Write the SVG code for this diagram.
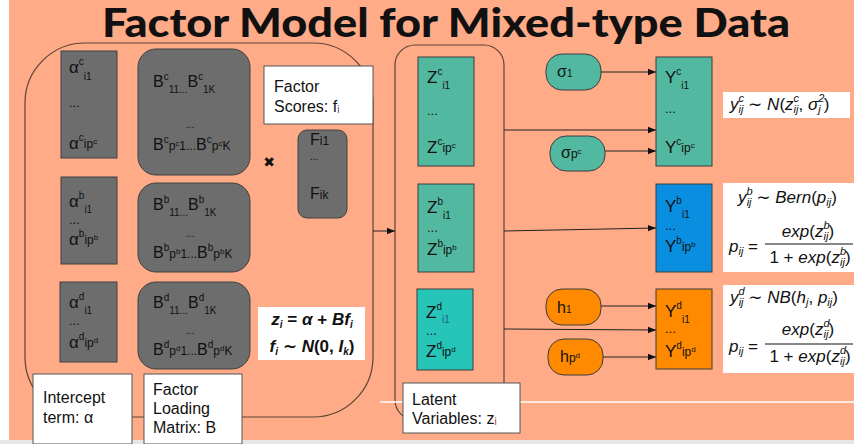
<svg xmlns="http://www.w3.org/2000/svg" width="854" height="444" viewBox="0 0 854 444">
<defs>
<style>
.t{font-family:"Liberation Sans",Arial,"DejaVu Sans",sans-serif;fill:#111;font-size:16px}
.big{font-size:17px}
.s{font-size:10px}
.ss{font-size:8px}
.m12{font-size:12px}
.dots{font-size:13px}
.mi{font-family:"Liberation Sans",Arial,"DejaVu Sans",sans-serif;font-style:italic;fill:#111;font-size:17px}
.fs{font-size:11px}
.up{font-style:normal}
.gray{fill:#6D6D6D;stroke:#404040;stroke-width:1}
.teal{fill:#52B8A0;stroke:#3c3c3c;stroke-width:1}
.cyan{fill:#27C4B8;stroke:#3c3c3c;stroke-width:1}
.blue{fill:#0A8FE0;stroke:#3c3c3c;stroke-width:1}
.orange{fill:#FF8A00;stroke:#3c3c3c;stroke-width:1}
.note{fill:#fff;stroke:#555;stroke-width:1}
.frame{fill:none;stroke:#5a4436;stroke-width:1.2}
.con{fill:none;stroke:#222;stroke-width:1}
</style>
<marker id="ah" viewBox="0 0 10 10" refX="10" refY="5" markerWidth="9" markerHeight="8" orient="auto" markerUnits="userSpaceOnUse">
<path d="M0,1 L10,5 L0,9 z" fill="#111"/>
</marker>
</defs>

<rect x="0" y="0" width="854" height="444" fill="#ffffff"/>
<rect x="9" y="0" width="845" height="440" fill="#FFAB88"/>
<rect x="0" y="440" width="854" height="4" fill="#E6E6E6"/>

<text x="446" y="37" text-anchor="middle" font-family="Lato,'Open Sans',sans-serif" font-weight="900" font-size="40" fill="#111" textLength="688" lengthAdjust="spacingAndGlyphs">Factor Model for Mixed-type Data</text>

<g id="loading-frame">
<rect class="frame" x="25" y="43" width="348" height="374" rx="60"/>
</g>
<g id="latent-frame">
<rect class="frame" x="395" y="45" width="109" height="375" rx="20"/>
</g>

<line x1="380" y1="402" x2="854" y2="402" stroke="#ffffff" stroke-width="1.5"/>

<g id="connectors">
<line class="con" x1="373" y1="231" x2="395" y2="231" marker-end="url(#ah)"/>
<line class="con" x1="504" y1="130" x2="656" y2="130" marker-end="url(#ah)"/>
<line class="con" x1="504" y1="231" x2="656" y2="228" marker-end="url(#ah)"/>
<line class="con" x1="504" y1="329" x2="656" y2="330" marker-end="url(#ah)"/>
<line class="con" x1="601" y1="72" x2="656" y2="72" marker-end="url(#ah)"/>
<line class="con" x1="605" y1="151" x2="656" y2="151" marker-end="url(#ah)"/>
<line class="con" x1="601" y1="306" x2="656" y2="306" marker-end="url(#ah)"/>
<line class="con" x1="603" y1="357" x2="656" y2="357" marker-end="url(#ah)"/>
</g>

<g id="alpha-c">
<rect class="gray" x="61" y="51" width="56" height="107"/>
<text class="t big" x="69" y="73">α<tspan class="s" dy="-8">c</tspan><tspan class="s" dy="15">i1</tspan></text>
<text class="t dots" x="69" y="107">...</text>
<text class="t big" x="69" y="149">α<tspan class="s" dy="-8">c</tspan><tspan class="m12" dy="7">ip</tspan><tspan class="ss" dy="-4">c</tspan></text>
</g>
<g id="alpha-b">
<rect class="gray" x="61" y="177" width="56" height="87"/>
<text class="t big" x="69" y="207">α<tspan class="s" dy="-8">b</tspan><tspan class="s" dy="14">i1</tspan></text>
<text class="t dots" x="69" y="224">...</text>
<text class="t big" x="69" y="245">α<tspan class="s" dy="-8">b</tspan><tspan class="m12" dy="7">ip</tspan><tspan class="ss" dy="-4">b</tspan></text>
</g>
<g id="alpha-d">
<rect class="gray" x="60" y="282" width="57" height="80"/>
<text class="t big" x="69" y="308">α<tspan class="s" dy="-8">d</tspan><tspan class="s" dy="14">i1</tspan></text>
<text class="t dots" x="69" y="325">...</text>
<text class="t big" x="69" y="348">α<tspan class="s" dy="-8">d</tspan><tspan class="m12" dy="7">ip</tspan><tspan class="ss" dy="-4">d</tspan></text>
</g>

<g id="B-c">
<rect class="gray" x="138" y="49" width="112" height="126" rx="18"/>
<text class="t" x="153" y="87">B<tspan class="s" dy="-7">c</tspan><tspan class="s" dy="13">11...</tspan><tspan dy="-6">B</tspan><tspan class="s" dy="-7">c</tspan><tspan class="s" dy="13">1K</tspan></text>
<text class="t s" x="190" y="128" text-anchor="middle">...</text>
<text class="t" x="153" y="150">B<tspan class="s" dy="-7">c</tspan><tspan class="m12" dy="7">p</tspan><tspan class="ss" dy="-4">c</tspan><tspan class="m12" dy="4">1...</tspan><tspan>B</tspan><tspan class="s" dy="-7">c</tspan><tspan class="m12" dy="7">p</tspan><tspan class="ss" dy="-4">c</tspan><tspan class="m12" dy="4">K</tspan></text>
</g>
<g id="B-b">
<rect class="gray" x="138" y="183" width="112" height="89" rx="18"/>
<text class="t" x="153" y="210">B<tspan class="s" dy="-7">b</tspan><tspan class="s" dy="13">11...</tspan><tspan dy="-6">B</tspan><tspan class="s" dy="-7">b</tspan><tspan class="s" dy="13">1K</tspan></text>
<text class="t s" x="190" y="237" text-anchor="middle">...</text>
<text class="t" x="153" y="258">B<tspan class="s" dy="-7">b</tspan><tspan class="m12" dy="7">p</tspan><tspan class="ss" dy="-4">b</tspan><tspan class="m12" dy="4">1...</tspan><tspan>B</tspan><tspan class="s" dy="-7">b</tspan><tspan class="m12" dy="7">p</tspan><tspan class="ss" dy="-4">b</tspan><tspan class="m12" dy="4">K</tspan></text>
</g>
<g id="B-d">
<rect class="gray" x="138" y="282" width="112" height="87" rx="18"/>
<text class="t" x="153" y="308">B<tspan class="s" dy="-7">d</tspan><tspan class="s" dy="13">11...</tspan><tspan dy="-6">B</tspan><tspan class="s" dy="-7">d</tspan><tspan class="s" dy="13">1K</tspan></text>
<text class="t s" x="190" y="334" text-anchor="middle">...</text>
<text class="t" x="153" y="355">B<tspan class="s" dy="-7">d</tspan><tspan class="m12" dy="7">p</tspan><tspan class="ss" dy="-4">d</tspan><tspan class="m12" dy="4">1...</tspan><tspan>B</tspan><tspan class="s" dy="-7">d</tspan><tspan class="m12" dy="7">p</tspan><tspan class="ss" dy="-4">d</tspan><tspan class="m12" dy="4">K</tspan></text>
</g>

<g id="factor-scores-label">
<rect class="note" x="264" y="66" width="109" height="58"/>
<text class="t" x="274" y="92">Factor</text>
<text class="t" x="274" y="112">Scores: f<tspan class="s" fill="#5a3c8c" dy="1">i</tspan></text>
</g>

<g id="times">
<text x="269" y="167" text-anchor="middle" font-family="'DejaVu Sans',sans-serif" font-size="14" fill="#111">✖</text>
</g>

<g id="F">
<rect class="gray" x="298" y="130" width="49" height="88" rx="9"/>
<text class="t" x="310" y="145">F<tspan class="m12">i1</tspan></text>
<text class="t s" x="310" y="160">...</text>
<text class="t" x="310" y="199">F<tspan class="m12">ik</tspan></text>
</g>

<g id="z-formula">
<rect x="258" y="307" width="107" height="53" fill="#fff"/>
<text class="mi" x="312" y="325" text-anchor="middle" font-weight="bold" font-size="16">z<tspan class="s" dy="3">i</tspan><tspan class="up" dy="-3"> = </tspan>α<tspan class="up"> + </tspan>Bf<tspan class="s" dy="3">i</tspan></text>
<text class="mi" x="312" y="352" text-anchor="middle" font-weight="bold" font-size="16">f<tspan class="s" dy="3">i</tspan><tspan class="up" dy="-3"> ∼ </tspan>N<tspan class="up">(0, </tspan>I<tspan class="s" dy="3">k</tspan><tspan class="up" dy="-3">)</tspan></text>
</g>

<g id="intercept-label">
<rect class="note" x="33" y="374" width="99" height="70"/>
<text class="t" x="43" y="403">Intercept</text>
<text class="t" x="43" y="423">term: α</text>
</g>

<g id="loading-label">
<rect class="note" x="144" y="374" width="98" height="70"/>
<text class="t" x="153" y="395">Factor</text>
<text class="t" x="153" y="414">Loading</text>
<text class="t" x="153" y="433">Matrix: B</text>
</g>

<g id="Z-c">
<rect class="teal" x="418" y="57" width="56" height="109"/>
<text class="t big" x="427" y="83">Z<tspan class="s" dy="-8">c</tspan><tspan class="s" dy="14">i1</tspan></text>
<text class="t dots" x="427" y="115">...</text>
<text class="t big" x="427" y="153">Z<tspan class="s" dy="-8">c</tspan><tspan class="m12" dy="7">ip</tspan><tspan class="ss" dy="-4">c</tspan></text>
</g>
<g id="Z-b">
<rect class="teal" x="418" y="184" width="56" height="88"/>
<text class="t big" x="427" y="213">Z<tspan class="s" dy="-8">b</tspan><tspan class="s" dy="14">i1</tspan></text>
<text class="t dots" x="427" y="232">...</text>
<text class="t big" x="427" y="255">Z<tspan class="s" dy="-8">b</tspan><tspan class="m12" dy="7">ip</tspan><tspan class="ss" dy="-4">b</tspan></text>
</g>
<g id="Z-d">
<rect class="cyan" x="417" y="289" width="56" height="81"/>
<text class="t big" x="426" y="318">Z<tspan class="s" dy="-8">d</tspan><tspan class="s" dy="13" fill="#1a5f8a">i1</tspan></text>
<text class="t dots" x="426" y="335">...</text>
<text class="t big" x="426" y="357">Z<tspan class="s" dy="-8">d</tspan><tspan class="m12" dy="7">ip</tspan><tspan class="ss" dy="-4">d</tspan></text>
</g>

<g id="latent-label">
<rect class="note" x="403" y="383" width="117" height="50"/>
<text class="t" x="412" y="405">Latent</text>
<text class="t" x="412" y="424">Variables: z<tspan class="s" fill="#b03040" dy="1">i</tspan></text>
</g>

<g id="sigma-1">
<rect class="teal" x="546" y="54" width="55" height="36" rx="16"/>
<text class="t" x="557" y="77">σ<tspan class="s">1</tspan></text>
</g>
<g id="sigma-p">
<rect class="teal" x="550" y="136" width="55" height="35" rx="16"/>
<text class="t" x="561" y="158">σ<tspan class="m12">p</tspan><tspan class="ss" dy="-4">c</tspan></text>
</g>
<g id="h-1">
<rect class="orange" x="546" y="289" width="55" height="36" rx="16"/>
<text class="t" x="557" y="313">h<tspan class="s">1</tspan></text>
</g>
<g id="h-p">
<rect class="orange" x="548" y="339" width="55" height="36" rx="16"/>
<text class="t" x="560" y="362">h<tspan class="m12">p</tspan><tspan class="ss" dy="-4">d</tspan></text>
</g>

<g id="Y-c">
<rect class="teal" x="656" y="57" width="56" height="109"/>
<text class="t big" x="665" y="83">Y<tspan class="s" dy="-8">c</tspan><tspan class="s" dy="14">i1</tspan></text>
<text class="t dots" x="665" y="113">...</text>
<text class="t big" x="665" y="153">Y<tspan class="s" dy="-8">c</tspan><tspan class="m12" dy="7">ip</tspan><tspan class="ss" dy="-4">c</tspan></text>
</g>
<g id="Y-b">
<rect class="blue" x="656" y="184" width="56" height="88"/>
<text class="t big" x="665" y="212">Y<tspan class="s" dy="-8">b</tspan><tspan class="s" dy="14">i1</tspan></text>
<text class="t dots" x="665" y="230">...</text>
<text class="t big" x="665" y="252">Y<tspan class="s" dy="-8">b</tspan><tspan class="m12" dy="7">ip</tspan><tspan class="ss" dy="-4">b</tspan></text>
</g>
<g id="Y-d">
<rect class="orange" x="656" y="289" width="56" height="80"/>
<text class="t big" x="665" y="317">Y<tspan class="s" dy="-8">d</tspan><tspan class="s" dy="14">i1</tspan></text>
<text class="t dots" x="665" y="333">...</text>
<text class="t big" x="665" y="357">Y<tspan class="s" dy="-8">d</tspan><tspan class="m12" dy="7">ip</tspan><tspan class="ss" dy="-4">d</tspan></text>
</g>

<g id="formula-c">
<rect x="723" y="92" width="127" height="26" fill="#fff"/>
<text class="mi" x="730" y="110" font-size="19">y<tspan class="fs" dy="-8">c</tspan><tspan class="fs" dx="-5.5" dy="11">ij</tspan><tspan class="up" dy="-3"> ∼ </tspan>N<tspan class="up">(</tspan>z<tspan class="fs" dy="-8">c</tspan><tspan class="fs" dx="-5.5" dy="11">ij</tspan><tspan class="up" dy="-3">, </tspan>σ<tspan class="fs" dy="-8">2</tspan><tspan class="fs" dx="-6" dy="11">j</tspan><tspan class="up" dx="3" dy="-3">)</tspan></text>
</g>

<g id="formula-b">
<rect x="723" y="183" width="131" height="89" fill="#fff"/>
<text class="mi" x="738" y="203" font-size="18">y<tspan class="fs" dy="-8">b</tspan><tspan class="fs" dx="-6" dy="11">ij</tspan><tspan class="up" dy="-3"> ∼ </tspan>Bern<tspan class="up">(</tspan>p<tspan class="fs" dy="3">ij</tspan><tspan class="up" dy="-3">)</tspan></text>
<text class="mi" x="729" y="252" font-size="18">p<tspan class="fs" dy="3">ij</tspan><tspan class="up" dy="-3"> =</tspan></text>
<text class="mi" x="808" y="237" text-anchor="middle" font-size="18">exp<tspan class="up">(</tspan>z<tspan class="fs" dy="-8">b</tspan><tspan class="fs" dx="-6" dy="11">ij</tspan><tspan class="up" dy="-3">)</tspan></text>
<line x1="765" y1="244" x2="853" y2="244" stroke="#111" stroke-width="1"/>
<text class="mi" x="810" y="263" text-anchor="middle" font-size="18"><tspan class="up">1 + </tspan>exp<tspan class="up">(</tspan>z<tspan class="fs" dy="-8">b</tspan><tspan class="fs" dx="-6" dy="11">ij</tspan><tspan class="up" dy="-3">)</tspan></text>
</g>

<g id="formula-d">
<rect x="723" y="285" width="131" height="88" fill="#fff"/>
<text class="mi" x="730" y="303" font-size="18">y<tspan class="fs" dy="-8">d</tspan><tspan class="fs" dx="-6" dy="11">ij</tspan><tspan class="up" dy="-3"> ∼ </tspan>NB<tspan class="up">(</tspan>h<tspan class="fs" dy="3">j</tspan><tspan class="up" dy="-3">, </tspan>p<tspan class="fs" dy="3">ij</tspan><tspan class="up" dy="-3">)</tspan></text>
<text class="mi" x="729" y="352" font-size="18">p<tspan class="fs" dy="3">ij</tspan><tspan class="up" dy="-3"> =</tspan></text>
<text class="mi" x="808" y="335" text-anchor="middle" font-size="18">exp<tspan class="up">(</tspan>z<tspan class="fs" dy="-8">d</tspan><tspan class="fs" dx="-6" dy="11">ij</tspan><tspan class="up" dy="-3">)</tspan></text>
<line x1="765" y1="344" x2="853" y2="344" stroke="#111" stroke-width="1"/>
<text class="mi" x="810" y="362" text-anchor="middle" font-size="18"><tspan class="up">1 + </tspan>exp<tspan class="up">(</tspan>z<tspan class="fs" dy="-8">d</tspan><tspan class="fs" dx="-6" dy="11">ij</tspan><tspan class="up" dy="-3">)</tspan></text>
</g>
</svg>
